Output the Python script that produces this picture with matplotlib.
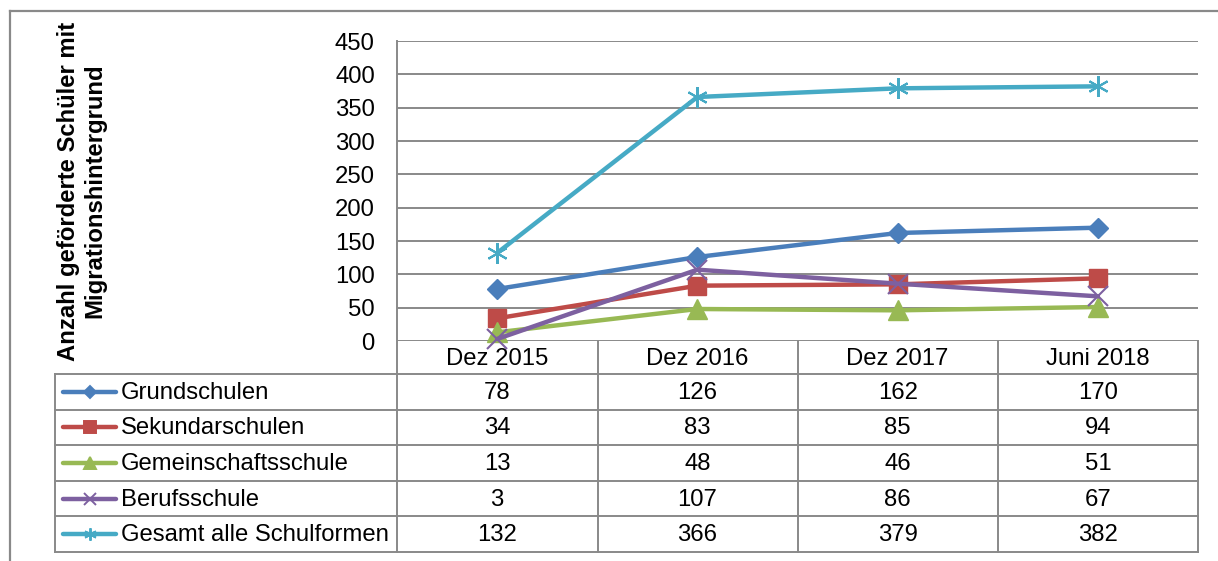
import matplotlib
matplotlib.use("Agg")
import matplotlib.pyplot as plt
import matplotlib.transforms as mtransforms

plt.rcParams['font.family'] = ['Liberation Sans', 'DejaVu Sans']

# data
categories = ["Dez 2015", "Dez 2016", "Dez 2017", "Juni 2018"]
series_names = ["Grundschulen", "Sekundarschulen", "Gemeinschaftsschule",
                "Berufsschule", "Gesamt alle Schulformen"]
grundschulen = [78, 126, 162, 170]
sekundarschulen = [34, 83, 85, 94]
gemeinschaftsschule = [13, 48, 46, 51]
berufsschule = [3, 107, 86, 67]
gesamt = [132, 366, 379, 382]
all_values = [grundschulen, sekundarschulen, gemeinschaftsschule, berufsschule, gesamt]

colors = ["#4a7ebb", "#be4b48", "#98b954", "#7d60a0", "#46aac5"]
markers = ["D", "s", "^", "x", (6, 2, 0)]
msizes = [10, 13, 14, 14, 15]
legend_ms = [6.5, 8, 8, 8, 9]

W, H = 1218, 561
grid_col = "#898989"
fs = 17.2

fig = plt.figure(figsize=(W / 100, H / 100), dpi=100)

# overlay in pixel coordinates for frame and table
ov = fig.add_axes([0, 0, 1, 1], zorder=0)
ov.set_xlim(0, W)
ov.set_ylim(H, 0)
ov.axis("off")

# main plot area
px_left, px_right, px_top, px_bot = 397, 1198, 41, 341
ax = fig.add_axes([px_left / W, 1 - px_bot / H, (px_right - px_left) / W, (px_bot - px_top) / H],
                  zorder=2)
ax.patch.set_alpha(0)
x = list(range(len(categories)))
for vals, c, m, ms in zip(all_values, colors, markers, msizes):
    mew = 1.5 if m in ("x",) or isinstance(m, tuple) else 1
    ax.plot(x, vals, color=c, lw=3.2, marker=m, markersize=ms, markeredgewidth=mew,
            markerfacecolor=c, markeredgecolor=c, clip_on=False, solid_capstyle="round")

ax.set_xlim(-0.5, len(categories) - 0.5)
ax.set_ylim(0, 450)
ax.set_yticks(range(0, 451, 50))
ax.tick_params(axis="y", length=0, pad=16, labelsize=fs)
ax.set_xticks([])
for s in ["top", "right", "bottom", "left"]:
    ax.spines[s].set_visible(False)
ax.grid(axis="y", color=grid_col, lw=1.4)
ax.set_axisbelow(True)

# outer frame
ov.plot([10, W], [11, 11], color=grid_col, lw=1.6)
ov.plot([10, 10], [11, H], color=grid_col, lw=1.6)

# y label
fig.text(82 / W, 1 - 191 / H, "Anzahl geförderte Schüler mit\nMigrationshintergrund",
         rotation=90, ha="center", va="center", fontsize=fs, fontweight="bold",
         multialignment="center", linespacing=1.2)

# data table
tbl_left = 55
header_top, header_bot = 341, 374
row_h = 35.6
n_rows = len(series_names)
row_edges = [header_bot + i * row_h for i in range(n_rows + 1)]
col_edges = [397, 597.5, 798, 998, 1198]
lw_t = 1.4
# vertical lines
ov.plot([px_left, px_left], [px_top, row_edges[-1]], color=grid_col, lw=lw_t)
for cx in col_edges[1:]:
    ov.plot([cx, cx], [header_top, row_edges[-1]], color=grid_col, lw=lw_t)
ov.plot([tbl_left, tbl_left], [row_edges[0], row_edges[-1]], color=grid_col, lw=lw_t)
# horizontal lines
for ry in row_edges:
    ov.plot([tbl_left, col_edges[-1]], [ry, ry], color=grid_col, lw=lw_t)

tr = mtransforms.blended_transform_factory(ax.transData, ov.transData)
for i, cat in enumerate(categories):
    ov.text(i, (header_top + header_bot) / 2 + 1, cat, transform=tr, ha="center",
            va="center", fontsize=fs)
for r, (name, vals, c, m) in enumerate(zip(series_names, all_values, colors, markers)):
    yc = (row_edges[r] + row_edges[r + 1]) / 2
    ov.plot([63, 89.5, 116], [yc, yc, yc], color=c, lw=3.2, solid_capstyle="round",
            marker=m, markevery=[1], markersize=legend_ms[r], markerfacecolor=c,
            markeredgecolor=c, markeredgewidth=1.4)
    ov.text(121, yc + 1, name, ha="left", va="center", fontsize=fs)
    for i, v in enumerate(vals):
        ov.text(i, yc + 1, str(v), transform=tr, ha="center", va="center", fontsize=fs)

fig.savefig("out.png", dpi=100)
